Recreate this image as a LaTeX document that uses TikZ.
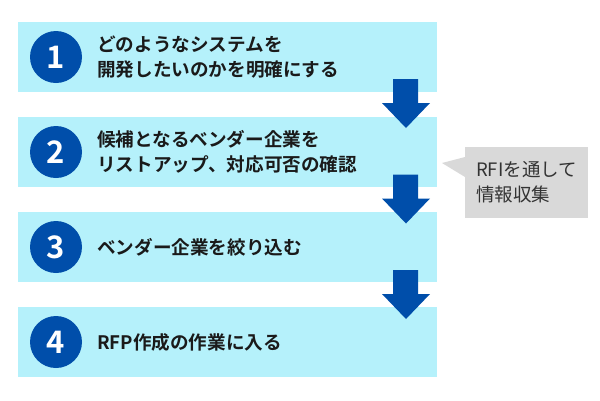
\documentclass[tikz,border=0pt]{standalone}
\usepackage{fontspec}
\setmainfont{Noto Sans CJK JP}[BoldFont={Noto Sans CJK JP Bold}]
\definecolor{boxcyan}{HTML}{B5F1FB}
\definecolor{darkblue}{HTML}{004EAA}
\definecolor{callgray}{HTML}{D9D9D9}
\definecolor{calltext}{HTML}{333333}
\definecolor{maintext}{HTML}{1A1A1A}
\begin{document}
\begin{tikzpicture}[x=1pt,y=-1pt,
  stepbox/.style={fill=boxcyan,draw=none,minimum width=419pt,minimum height=70pt,inner sep=0pt},
  numcirc/.style={circle,fill=darkblue,minimum size=52pt,inner sep=0pt,text=white,font=\fontsize{31}{31}\selectfont\bfseries},
  steptext/.style={anchor=west,align=left,inner sep=0pt,text=maintext,font=\fontsize{18.6}{25}\selectfont\bfseries},
  blockarrow/.style={fill=darkblue,draw=none}]
\useasboundingbox (0,0) rectangle (600,400);
% boxes
\node[stepbox] (box1) at (227.5,57) {};
\node[stepbox] (box2) at (227.5,152) {};
\node[stepbox] (box3) at (227.5,247) {};
\node[stepbox] (box4) at (227.5,342) {};
% circles
\node[numcirc] (c1) at (56,57) {1};
\node[numcirc] (c2) at (56,152) {2};
\node[numcirc] (c3) at (56,247) {3};
\node[numcirc] (c4) at (56,342) {4};
% texts
\node[steptext] (t1) at (97,57) {どのようなシステムを\\開発したいのかを明確にする};
\node[steptext] (t2) at (97,152) {候補となるベンダー企業を\\リストアップ、対応可否の確認};
\node[steptext] (t3) at (97,247) {ベンダー企業を絞り込む};
\node[steptext] (t4) at (97,342) {RFP作成の作業に入る};
% arrows
\foreach \y in {79,174.5,270}{
  \fill[blockarrow] (393,\y) -- (418,\y) -- (418,\y+24) -- (430,\y+24) -- (406,\y+49)
    -- (382,\y+24) -- (393,\y+24) -- cycle;
}
% callout
\fill[callgray] (465,147) rectangle (588,218);
\fill[callgray] (465,157) -- (442,163) -- (465,177) -- cycle;
\node[anchor=west,align=left,inner sep=0pt,text=calltext,font=\fontsize{18.5}{25}\selectfont] (note) at (476,182.5) {RFIを通して\\情報収集};
\end{tikzpicture}
\end{document}
